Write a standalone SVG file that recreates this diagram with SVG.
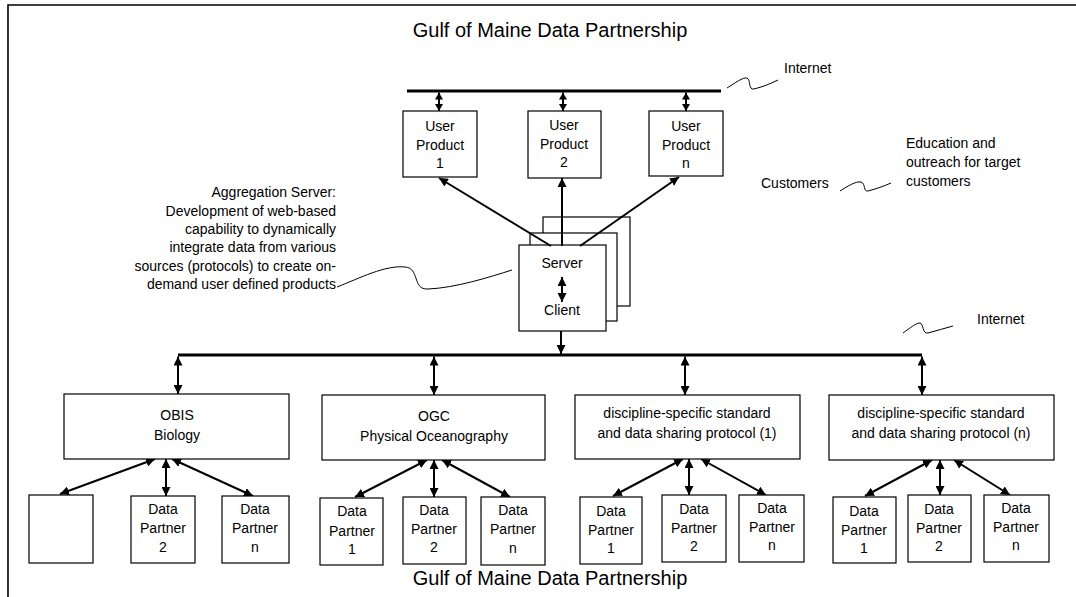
<svg xmlns="http://www.w3.org/2000/svg" width="1076" height="597" viewBox="0 0 1076 597">
<style>
text{font-family:"Liberation Sans",Arial,sans-serif;font-size:14px;fill:#000}
.c{text-anchor:middle}
.r{text-anchor:end}
.title{font-size:20px}
.box{fill:#fff;stroke:#000;stroke-width:1.2}
.ln{stroke:#000;stroke-width:2;fill:none}
.d{marker-start:url(#ah);marker-end:url(#ah)}
.ds{marker-start:url(#ahs);marker-end:url(#ahs)}
.e{marker-end:url(#ah)}
.bus{stroke:#000;stroke-width:3.2}
.sq{stroke:#000;stroke-width:1;fill:none}
</style>
<defs>
<marker id="ah" viewBox="0 0 9 9" refX="9" refY="4.5" markerWidth="9" markerHeight="9" markerUnits="userSpaceOnUse" orient="auto-start-reverse"><path d="M0,0 L9,4.5 L0,9 z" fill="#000"/></marker>
<marker id="ahs" viewBox="0 0 7 8" refX="7" refY="4" markerWidth="7" markerHeight="8" markerUnits="userSpaceOnUse" orient="auto-start-reverse"><path d="M0,0 L7,4 L0,8 z" fill="#000"/></marker>
</defs>
<rect width="1076" height="597" fill="#fff"/>
<path d="M8,597 L8,5 L1076,5" fill="none" stroke="#000" stroke-width="1.6"/>
<text class="title c" x="550" y="37">Gulf of Maine Data Partnership</text>
<text class="title c" x="550" y="585">Gulf of Maine Data Partnership</text>

<g id="annotations">
<text x="784" y="73">Internet</text>
<path class="sq" d="M727,88 C735,83 743,77 747,78 C751,80 748,90 754,89 C762,87 770,84 778,80"/>
<text x="761" y="188">Customers</text>
<path class="sq" d="M840,191 C848,186 856,181 861,182 C866,184 863,192 868,191 C876,189 884,186 891,183"/>
<text x="906" y="148">Education and</text>
<text x="906" y="167">outreach for target</text>
<text x="906" y="186">customers</text>
<text class="r" x="336" y="197">Aggregation Server:</text>
<text class="r" x="336" y="216">Development of web-based</text>
<text class="r" x="336" y="234">capability to dynamically</text>
<text class="r" x="336" y="252">integrate data from various</text>
<text class="r" x="336" y="271">sources (protocols) to create on-</text>
<text class="r" x="336" y="289">demand user defined products</text>
<path class="sq" d="M337,287 C360,278 385,265 405,267 C420,268 412,290 428,289 C455,288 490,277 512,270"/>
<text x="977" y="324">Internet</text>
<path class="sq" d="M903,333 C910,328 916,323 920,323 C924,324 922,334 928,333 C936,331 945,328 953,326"/>
</g>

<g id="connectors">
<line class="bus" x1="407" y1="91" x2="721" y2="91"/>
<line class="ln ds" x1="439" y1="92.6" x2="439" y2="111"/>
<line class="ln ds" x1="563" y1="92.6" x2="563" y2="111"/>
<line class="ln ds" x1="686" y1="92.6" x2="686" y2="111"/>
<line class="bus" x1="178" y1="355" x2="922" y2="355"/>
<line class="ln d" x1="178" y1="356.6" x2="178" y2="394"/>
<line class="ln d" x1="434" y1="356.6" x2="434" y2="395"/>
<line class="ln d" x1="685" y1="356.6" x2="685" y2="395"/>
<line class="ln d" x1="922" y1="356.6" x2="922" y2="395"/>
<line class="ln d" x1="155" y1="459" x2="60" y2="494"/>
<line class="ln d" x1="166" y1="459" x2="166" y2="496"/>
<line class="ln d" x1="172" y1="459" x2="253" y2="496"/>
<line class="ln d" x1="427" y1="460" x2="355" y2="497"/>
<line class="ln d" x1="434" y1="460" x2="434" y2="497"/>
<line class="ln d" x1="442" y1="460" x2="510" y2="497"/>
<line class="ln d" x1="683" y1="459" x2="613" y2="496"/>
<line class="ln d" x1="689" y1="459" x2="689" y2="495"/>
<line class="ln d" x1="701" y1="459" x2="766" y2="495"/>
<line class="ln d" x1="932" y1="460" x2="865" y2="496"/>
<line class="ln d" x1="940" y1="460" x2="940" y2="495"/>
<line class="ln d" x1="954" y1="460" x2="1010" y2="495"/>
</g>

<g id="server">
<rect class="box" x="543" y="217" width="87" height="89"/>
<rect class="box" x="530" y="233" width="87" height="88"/>
<rect class="box" x="519" y="245" width="87" height="86"/>
<text class="c" x="562" y="268">Server</text>
<text class="c" x="562" y="315">Client</text>
</g>

<g id="connectors-server">
<line class="ln e" x1="551" y1="246" x2="439" y2="178"/>
<line class="ln e" x1="562" y1="246" x2="562" y2="178"/>
<line class="ln e" x1="580" y1="246" x2="679" y2="177"/>
<line class="ln d" x1="562" y1="277" x2="562" y2="302"/>
<line class="ln e" x1="561" y1="331" x2="561" y2="354"/>
</g>

<g id="up1"><rect class="box" x="403" y="111" width="74" height="66"/>
<text class="c" x="440" y="131">User</text><text class="c" x="440" y="150">Product</text><text class="c" x="440" y="168">1</text></g>
<g id="up2"><rect class="box" x="528" y="111" width="73" height="67"/>
<text class="c" x="564" y="130">User</text><text class="c" x="564" y="149">Product</text><text class="c" x="564" y="167">2</text></g>
<g id="upn"><rect class="box" x="649" y="111" width="74" height="65"/>
<text class="c" x="686" y="131">User</text><text class="c" x="686" y="150">Product</text><text class="c" x="686" y="168">n</text></g>

<g id="obis"><rect class="box" x="64" y="394" width="225" height="65"/>
<text class="c" x="177" y="420">OBIS</text><text class="c" x="177" y="440">Biology</text></g>
<g id="ogc"><rect class="box" x="322" y="395" width="223" height="65"/>
<text class="c" x="434" y="421">OGC</text><text class="c" x="434" y="441">Physical Oceanography</text></g>
<g id="disc1"><rect class="box" x="575" y="395" width="225" height="64"/>
<text class="c" x="687" y="418">discipline-specific standard</text><text class="c" x="687" y="438">and data sharing protocol (1)</text></g>
<g id="discn"><rect class="box" x="829" y="395" width="225" height="65"/>
<text class="c" x="941" y="418">discipline-specific standard</text><text class="c" x="941" y="438">and data sharing protocol (n)</text></g>

<g id="obis-dp1"><rect class="box" x="29" y="495" width="64" height="68"/></g>
<g id="obis-dp2"><rect class="box" x="131" y="496" width="64" height="67"/>
<text class="c" x="163" y="514">Data</text><text class="c" x="163" y="533">Partner</text><text class="c" x="163" y="552">2</text></g>
<g id="obis-dpn"><rect class="box" x="222" y="496" width="67" height="67"/>
<text class="c" x="255" y="514">Data</text><text class="c" x="255" y="533">Partner</text><text class="c" x="255" y="552">n</text></g>

<g id="ogc-dp1"><rect class="box" x="320" y="498" width="63" height="67"/>
<text class="c" x="352" y="516">Data</text><text class="c" x="352" y="536">Partner</text><text class="c" x="352" y="554">1</text></g>
<g id="ogc-dp2"><rect class="box" x="403" y="497" width="63" height="67"/>
<text class="c" x="434" y="515">Data</text><text class="c" x="434" y="534">Partner</text><text class="c" x="434" y="552">2</text></g>
<g id="ogc-dpn"><rect class="box" x="481" y="497" width="64" height="68"/>
<text class="c" x="513" y="515">Data</text><text class="c" x="513" y="534">Partner</text><text class="c" x="513" y="553">n</text></g>

<g id="d1-dp1"><rect class="box" x="580" y="497" width="62" height="67"/>
<text class="c" x="611" y="516">Data</text><text class="c" x="611" y="535">Partner</text><text class="c" x="611" y="553">1</text></g>
<g id="d1-dp2"><rect class="box" x="662" y="495" width="64" height="67"/>
<text class="c" x="694" y="514">Data</text><text class="c" x="694" y="533">Partner</text><text class="c" x="694" y="551">2</text></g>
<g id="d1-dpn"><rect class="box" x="739" y="495" width="65" height="67"/>
<text class="c" x="772" y="513">Data</text><text class="c" x="772" y="532">Partner</text><text class="c" x="772" y="550">n</text></g>

<g id="dn-dp1"><rect class="box" x="833" y="497" width="63" height="66"/>
<text class="c" x="864" y="516">Data</text><text class="c" x="864" y="535">Partner</text><text class="c" x="864" y="553">1</text></g>
<g id="dn-dp2"><rect class="box" x="908" y="495" width="63" height="67"/>
<text class="c" x="939" y="514">Data</text><text class="c" x="939" y="533">Partner</text><text class="c" x="939" y="551">2</text></g>
<g id="dn-dpn"><rect class="box" x="984" y="495" width="65" height="67"/>
<text class="c" x="1016" y="513">Data</text><text class="c" x="1016" y="532">Partner</text><text class="c" x="1016" y="550">n</text></g>
</svg>
